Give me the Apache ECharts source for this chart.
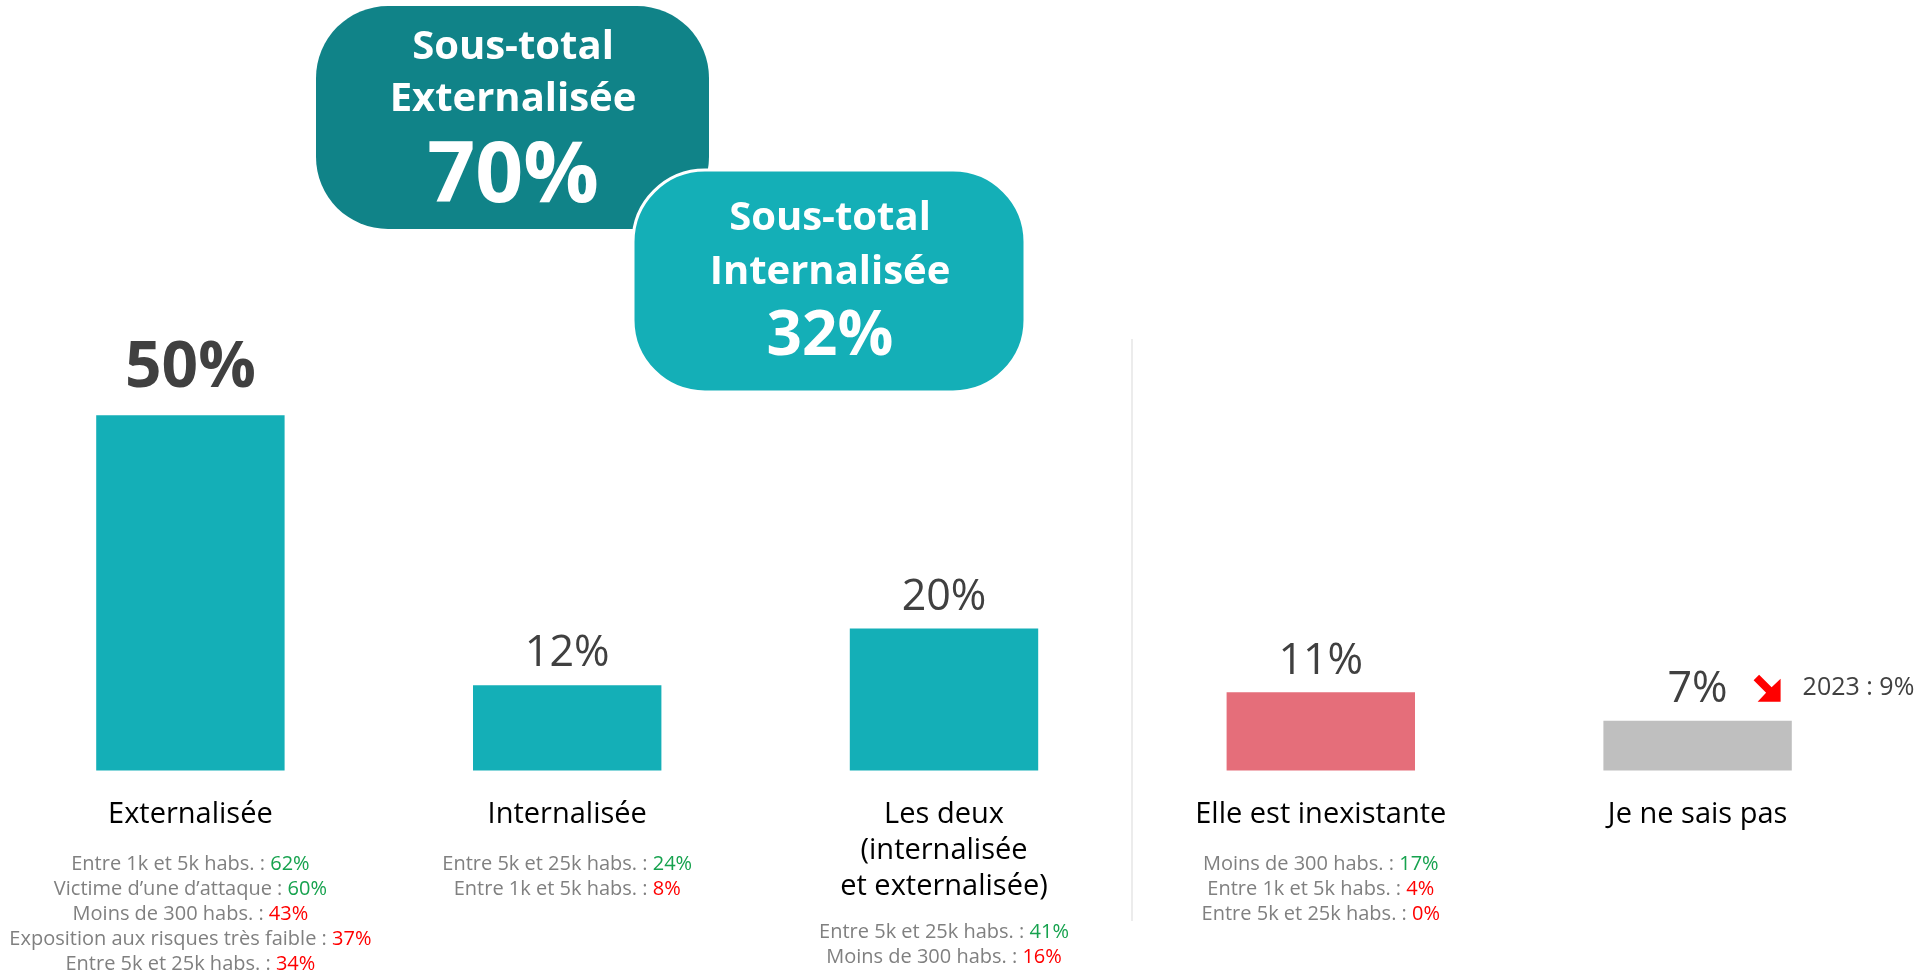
<!DOCTYPE html>
<html>
<head>
<meta charset="utf-8">
<script src="https://cdn.jsdelivr.net/npm/echarts@6/dist/echarts.min.js"></script>
<style>
html,body{margin:0;padding:0;background:#fff;}
#chart{width:1931px;height:974px;}
</style>
</head>
<body>
<div id="chart"></div>
<script>
// ---- data ----
var categories = ['Externalisée', 'Internalisée', 'Les deux\n(internalisée\net externalisée)', 'Elle est inexistante', 'Je ne sais pas'];
var values = [50, 12, 20, 11, 7];

// sub-group details: [label, value %, 'up' | 'down']
var detailsExternalisee = [
  ['Entre 1k et 5k habs.', 62, 'up'],
  ['Victime d\u2019une d\u2019attaque', 60, 'up'],
  ['Moins de 300 habs.', 43, 'down'],
  ['Exposition aux risques très faible', 37, 'down'],
  ['Entre 5k et 25k habs.', 34, 'down']
];
var detailsInternalisee = [
  ['Entre 5k et 25k habs.', 24, 'up'],
  ['Entre 1k et 5k habs.', 8, 'down']
];
var detailsLesDeux = [
  ['Entre 5k et 25k habs.', 41, 'up'],
  ['Moins de 300 habs.', 16, 'down']
];
var detailsInexistante = [
  ['Moins de 300 habs.', 17, 'up'],
  ['Entre 1k et 5k habs.', 4, 'down'],
  ['Entre 5k et 25k habs.', 0, 'down']
];
var detailsNeSaisPas = [];

var subtotalTitles = ['Sous-total\nExternalisée', 'Sous-total\nInternalisée'];
var subtotalValues = [70, 32];

var previousYear = '2023';
var previousValueNeSaisPas = 9;

// ---- styling ----
var FONT = '"Open Sans", "Noto Sans", sans-serif';
var TEAL = '#14AFB7';
var DARK_TEAL = '#108388';
var barColors = [TEAL, TEAL, TEAL, '#E56E7A', '#BFBFBF'];
var allDetails = [detailsExternalisee, detailsInternalisee, detailsLesDeux, detailsInexistante, detailsNeSaisPas];

function axisFormatter(value, idx) {
  var catLines = value.split('\n');
  var lines = catLines.map(function (l) { return '{c|' + l + '}'; });
  var det = allDetails[idx] || [];
  if (det.length) {
    lines.push(catLines.length > 1 ? '{spm| }' : '{sp| }');
    det.forEach(function (d) {
      lines.push('{s|' + d[0] + ' : }{' + (d[2] === 'up' ? 'g' : 'r') + '|' + d[1] + '%}');
    });
  }
  return lines.join('\n');
}

var chart = echarts.init(document.getElementById('chart'), null, {renderer: 'canvas'});

var seriesData = values.map(function (v, i) {
  var item = {value: v, itemStyle: {color: barColors[i]}};
  if (i === 0) {
    item.label = {fontSize: 64, fontWeight: 'bold', lineHeight: 64, distance: 14};
  }
  return item;
});

var option = {
  animation: false,
  backgroundColor: '#fff',
  textStyle: {fontFamily: FONT},
  grid: {left: 2, right: 45, top: 60, bottom: 202, containLabel: false},
  xAxis: {
    type: 'category',
    data: categories,
    axisLine: {show: false},
    axisTick: {show: false},
    splitLine: {show: false},
    axisLabel: {
      interval: 0,
      margin: 26,
      formatter: axisFormatter,
      fontFamily: FONT,
      rich: {
        c: {fontSize: 29, lineHeight: 36, color: '#000000', fontFamily: FONT},
        sp: {fontSize: 10, lineHeight: 19},
        spm: {fontSize: 10, lineHeight: 15},
        s: {fontSize: 20, lineHeight: 25, color: '#808080', fontFamily: FONT},
        g: {fontSize: 20, lineHeight: 25, color: '#16A24E', fontFamily: FONT},
        r: {fontSize: 20, lineHeight: 25, color: '#FF0000', fontFamily: FONT}
      }
    }
  },
  yAxis: {
    type: 'value',
    min: 0,
    max: 100,
    show: false
  },
  series: [{
    type: 'bar',
    barWidth: '50%',
    data: seriesData,
    label: {
      show: true,
      position: 'top',
      distance: 9,
      fontSize: 43,
      lineHeight: 44,
      color: '#404040',
      fontFamily: FONT,
      formatter: '{c}%'
    }
  }],
  graphic: [
    {
      type: 'line',
      shape: {x1: 1132, y1: 339, x2: 1132, y2: 921},
      style: {stroke: '#D9D9D9', lineWidth: 1}
    },
    {
      type: 'rect',
      shape: {x: 316, y: 6, width: 393, height: 223, r: 72},
      style: {fill: DARK_TEAL},
      z: 10
    },
    {
      type: 'text',
      x: 513, y: 74,
      style: {text: subtotalTitles[0], fill: '#fff', font: 'bold 40px ' + FONT, lineHeight: 52, align: 'center', verticalAlign: 'middle'},
      z: 11
    },
    {
      type: 'text',
      x: 513, y: 178,
      style: {text: subtotalValues[0] + '%', fill: '#fff', font: 'bold 84px ' + FONT, align: 'center', verticalAlign: 'middle'},
      z: 11
    },
    {
      type: 'rect',
      shape: {x: 633, y: 170, width: 392, height: 222, r: 72},
      style: {fill: TEAL, stroke: '#fff', lineWidth: 3},
      z: 12
    },
    {
      type: 'text',
      x: 830, y: 246,
      style: {text: subtotalTitles[1], fill: '#fff', font: 'bold 40px ' + FONT, lineHeight: 54, align: 'center', verticalAlign: 'middle'},
      z: 13
    },
    {
      type: 'text',
      x: 830, y: 337,
      style: {text: subtotalValues[1] + '%', fill: '#fff', font: 'bold 62px ' + FONT, align: 'center', verticalAlign: 'middle'},
      z: 13
    }
  ]
};

chart.setOption(option);

// trend annotation next to the "Je ne sais pas" bar, anchored to its value via the axes
var p = chart.convertToPixel({gridIndex: 0}, [4, values[4]]);
var ax = p[0] + 56, ay = p[1] - 46;
chart.setOption({
  graphic: [{
    id: 'trendArrow',
    type: 'polygon',
    x: ax, y: ay,
    shape: {points: [[0, 5.5], [5.5, 0], [18, 12.5], [27, 4], [27, 27], [4, 27], [12.5, 18]]},
    style: {fill: '#FF0000'},
    z: 5
  }, {
    id: 'trendText',
    type: 'text',
    x: p[0] + 105, y: p[1] - 33,
    style: {text: previousYear + ' : ' + previousValueNeSaisPas + '%', fill: '#404040', font: '25px ' + FONT, align: 'left', verticalAlign: 'middle'},
    z: 5
  }]
});
</script>
</body>
</html>
